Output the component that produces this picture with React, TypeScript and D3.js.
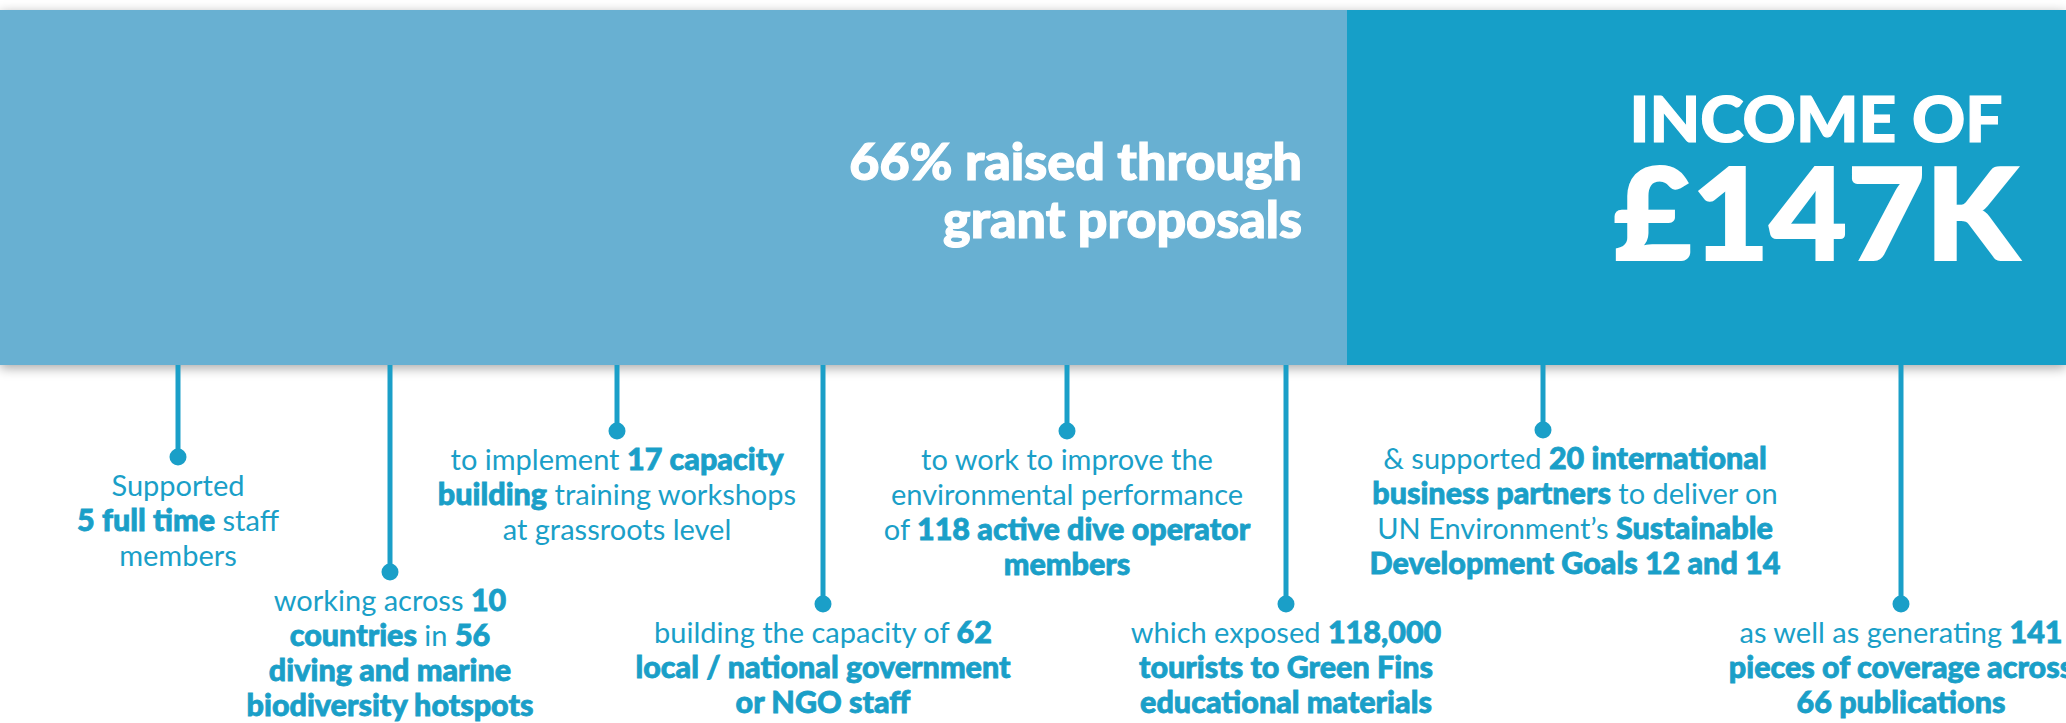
import React from 'react';
import * as d3 from 'd3';

// share of income by source (%), grant proposals first
const incomeSources = ['grant proposals', 'other'];
const incomeShares = [66, 34];
const headlineLines = ['66% raised through', 'grant proposals'];
const incomeTitle = 'INCOME OF';
const incomeTotal = '£147K';

// callouts, left to right; **...** marks the bold part
const calloutText = [
  ['Supported', '**5 full time** staff', 'members'],
  ['working across **10**', '**countries** in **56**', '**diving and marine**', '**biodiversity hotspots**'],
  ['to implement **17 capacity**', '**building** training workshops', 'at grassroots level'],
  ['building the capacity of **62**', '**local / national government**', '**or NGO staff**'],
  ['to work to improve the', 'environmental performance', 'of **118 active dive operator**', '**members**'],
  ['which exposed **118,000**', '**tourists to Green Fins**', '**educational materials**'],
  ['& supported **20 international**', '**business partners** to deliver on', 'UN Environment’s **Sustainable**', '**Development Goals 12 and 14**'],
  ['as well as generating **141**', '**pieces of coverage across**', '**66 publications**'],
];

// layout only
const W = 2066;
const H = 723;
const calloutX = [178, 390, 617, 823, 1067, 1286, 1543, 1901];
const calloutTextShift = [0, 0, 0, 0, 0, 0, 32, 0];
const calloutDotY = [457, 572, 431, 604, 431, 604, 430, 604];

const light = '#67b0d2';
const dark = '#199fc8';
const ink = '#1a9fc8';

function parse(line: string) {
  return line.split(/(\*\*[^*]+\*\*)/).filter(s => s.length).map(s =>
    s.startsWith('**') ? { t: s.slice(2, -2), b: true } : { t: s, b: false });
}

export default function App() {
  const barTop = 10;
  const barBottom = 365;
  const x = d3.scaleLinear().domain([0, 66]).range([0, 1347]);
  const stacked = d3.cumsum(incomeShares);
  const segs = incomeShares.map((v, i) => {
    const x0 = x(stacked[i] - v);
    const x1 = i === incomeShares.length - 1 ? W : x(stacked[i]);
    return { key: incomeSources[i], x0, x1 };
  });

  return (
    <svg width={W} height={H} style={{ position: 'absolute', left: 0, top: 0, background: '#fff' }}
      fontFamily="Lato, sans-serif">
      <defs>
        <filter id="sh" x="-5%" y="-20%" width="110%" height="140%">
          <feDropShadow dx="0" dy="3" stdDeviation="6" floodColor="#000" floodOpacity="0.35" />
        </filter>
      </defs>
      <g filter="url(#sh)">
        {segs.map((s, i) => (
          <rect key={s.key} x={s.x0} y={barTop} width={s.x1 - s.x0} height={barBottom - barTop}
            fill={i === 0 ? light : dark} />
        ))}
      </g>

      {headlineLines.map((l, i) => (
        <text key={l} x={1302} y={180 + i * 58} textAnchor="end" fill="#fff" fontWeight={900}
          fontSize={52} stroke="#fff" strokeWidth={1.2}>{l}</text>
      ))}
      <text x={1816} y={142} textAnchor="middle" fill="#fff" fontWeight={900} fontSize={62}
        stroke="#fff" strokeWidth={1.2}
        textLength={373} lengthAdjust="spacingAndGlyphs">{incomeTitle}</text>
      <text x={1816} y={260} textAnchor="middle" fill="#fff" fontWeight={900} fontSize={128}
        stroke="#fff" strokeWidth={2}
        textLength={405} lengthAdjust="spacingAndGlyphs">{incomeTotal}</text>

      {calloutText.map((lines, i) => {
        const cx = calloutX[i];
        const tx = cx + calloutTextShift[i];
        const dy = calloutDotY[i];
        return (
          <g key={i}>
            <line x1={cx} x2={cx} y1={barBottom} y2={dy} stroke={ink} strokeWidth={5} />
            <circle cx={cx} cy={dy} r={8.5} fill={ink} />
            {lines.map((l, j) => (
              <text key={j} x={tx} y={dy + 39 + j * 35} textAnchor="middle" fill={ink} fontSize={29}>
                {parse(l).map((p, k) => p.b ? (
                  <tspan key={k} fontWeight={900} fontSize={30.5} stroke={ink} strokeWidth={0.8}>{p.t}</tspan>
                ) : (
                  <tspan key={k} fontWeight={400}>{p.t}</tspan>
                ))}
              </text>
            ))}
          </g>
        );
      })}
    </svg>
  );
}
